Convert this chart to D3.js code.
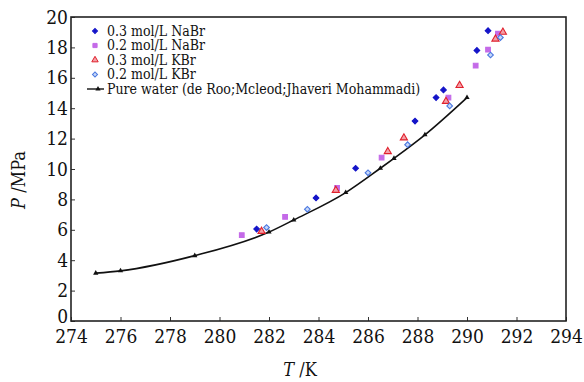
<!DOCTYPE html>
<html>
<head>
<meta charset="utf-8">
<script src="https://cdn.jsdelivr.net/npm/d3@7"></script>
<style>
  body { margin: 0; background: #fff; }
  svg text { font-family: "DejaVu Serif Condensed", "DejaVu Serif", serif !important; fill: #111; }
</style>
</head>
<body>
<div id="chart"></div>
<script>
// data (T in K, P in MPa)
var xTicks = [274, 276, 278, 280, 282, 284, 286, 288, 290, 292, 294];
var yTicks = [0, 2, 4, 6, 8, 10, 12, 14, 16, 18, 20];

var naBr03T = [281.5, 283.9, 285.5, 287.9, 288.75, 289.05, 290.4, 290.85];
var naBr03P = [6.05, 8.1, 10.05, 13.15, 14.7, 15.2, 17.8, 19.1];

var naBr02T = [280.9, 282.65, 284.75, 286.55, 289.25, 290.35, 290.85, 291.25];
var naBr02P = [5.65, 6.85, 8.75, 10.75, 14.7, 16.8, 17.85, 18.9];

var kBr03T = [281.7, 284.7, 286.8, 287.45, 289.15, 289.7, 291.15, 291.45];
var kBr03P = [5.9, 8.6, 11.15, 12.05, 14.45, 15.5, 18.55, 19.0];

var kBr02T = [281.9, 283.55, 286.0, 287.6, 289.3, 290.95, 291.35];
var kBr02P = [6.15, 7.35, 9.75, 11.6, 14.15, 17.5, 18.65];

var waterT = [275, 276, 279, 282, 283, 285.1, 286.5, 287.05, 288.3, 290];
var waterP = [3.15, 3.3, 4.3, 5.85, 6.65, 8.45, 10.05, 10.7, 12.25, 14.7];

var legendNames = ["0.3 mol/L NaBr", "0.2 mol/L NaBr", "0.3 mol/L KBr", "0.2 mol/L KBr",
  "Pure water (de Roo;Mcleod;Jhaveri Mohammadi)"];

function pairs(ts, ps) {
  return ts.map(function (t, i) { return { t: t, p: ps[i] }; });
}

var svgWidth = 584, svgHeight = 382;
var margin = { top: 17, right: 18, bottom: 61, left: 71 };
var width = svgWidth - margin.left - margin.right;
var height = svgHeight - margin.top - margin.bottom;

var svg = d3.select("#chart").append("svg")
  .attr("width", svgWidth)
  .attr("height", svgHeight);

var g = svg.append("g")
  .attr("transform", "translate(" + margin.left + "," + margin.top + ")");

var x = d3.scaleLinear().domain([274, 294]).range([0, width]);
var y = d3.scaleLinear().domain([0, 20]).range([height, 0]);

// bottom axis, ticks pointing inward
var xAxis = g.append("g")
  .attr("transform", "translate(0," + height + ")")
  .call(d3.axisBottom(x).tickValues(xTicks).tickSize(-4).tickPadding(9).tickFormat(d3.format("d")));
xAxis.select(".domain").remove();
xAxis.selectAll("line").attr("stroke", "#333");
xAxis.selectAll("text").attr("font-size", 19).attr("fill", "#111");

var yAxis = g.append("g")
  .call(d3.axisLeft(y).tickValues(yTicks).tickSize(-4).tickPadding(3).tickFormat(d3.format("d")));
yAxis.select(".domain").remove();
yAxis.selectAll("line").attr("stroke", "#333");
yAxis.selectAll("text").attr("font-size", 19).attr("fill", "#111");
yAxis.selectAll(".tick").filter(function (d) { return d === 0; })
  .select("text").attr("dy", "0.1em");

// frame
g.append("rect")
  .attr("width", width).attr("height", height)
  .attr("fill", "none").attr("stroke", "#222").attr("stroke-width", 1.6);

// pure water line
var line = d3.line()
  .x(function (d) { return x(d.t); })
  .y(function (d) { return y(d.p); })
  .curve(d3.curveMonotoneX);

var water = pairs(waterT, waterP);
g.append("path")
  .datum(water)
  .attr("fill", "none")
  .attr("stroke", "#111")
  .attr("stroke-width", 1.6)
  .attr("d", line);

var triSmall = d3.symbol().type(d3.symbolTriangle).size(12);
g.selectAll(".wpt").data(water).enter().append("path")
  .attr("class", "wpt")
  .attr("d", triSmall)
  .attr("transform", function (d) { return "translate(" + x(d.t) + "," + y(d.p) + ")"; })
  .attr("fill", "#111");

// scatter series (diamonds = squares turned 45deg)
var series = [
  { data: pairs(naBr03T, naBr03P), type: d3.symbolSquare, rot: 45, size: 16, fill: "#1414c8", stroke: "#1414c8" },
  { data: pairs(naBr02T, naBr02P), type: d3.symbolSquare, rot: 0, size: 22, fill: "#c46ae8", stroke: "#c46ae8" },
  { data: pairs(kBr03T, kBr03P), type: d3.symbolTriangle, rot: 0, size: 22, fill: "#f3a0a8", stroke: "#e0202c" },
  { data: pairs(kBr02T, kBr02P), type: d3.symbolSquare, rot: 45, size: 16, fill: "#c8d8f8", stroke: "#4a78e0" }
];

series.forEach(function (s) {
  var sym = d3.symbol().type(s.type).size(s.size);
  g.append("g").selectAll("path").data(s.data).enter().append("path")
    .attr("d", sym)
    .attr("transform", function (d) { return "translate(" + x(d.t) + "," + y(d.p) + ") rotate(" + s.rot + ")"; })
    .attr("fill", s.fill)
    .attr("stroke", s.stroke)
    .attr("stroke-width", 1.1);
});

// legend
var legend = g.append("g");
var legY = [14, 28.5, 43, 57.5, 72];
legendNames.forEach(function (name, i) {
  var ly = legY[i];
  if (i < 4) {
    var s = series[i];
    legend.append("path")
      .attr("d", d3.symbol().type(s.type).size(s.size * 0.8))
      .attr("transform", "translate(24," + ly + ") rotate(" + s.rot + ")")
      .attr("fill", s.fill).attr("stroke", s.stroke).attr("stroke-width", 1);
  } else {
    legend.append("line")
      .attr("x1", 16).attr("x2", 33).attr("y1", ly).attr("y2", ly)
      .attr("stroke", "#111").attr("stroke-width", 1.4);
    legend.append("path")
      .attr("d", triSmall)
      .attr("transform", "translate(27," + ly + ")")
      .attr("fill", "#111");
  }
  legend.append("text")
    .attr("x", 36).attr("y", ly)
    .attr("dy", "0.35em")
    .attr("font-size", 14)
    .text(name);
});

// axis titles
svg.append("text")
  .attr("x", 300).attr("y", 376)
  .attr("text-anchor", "middle")
  .attr("font-size", 18)
  .html('<tspan font-style="italic">T</tspan> /K');

svg.append("text")
  .attr("transform", "translate(25,180) rotate(-90)")
  .attr("text-anchor", "middle")
  .attr("font-size", 18)
  .html('<tspan font-style="italic">P</tspan> /MPa');
</script>
</body>
</html>
